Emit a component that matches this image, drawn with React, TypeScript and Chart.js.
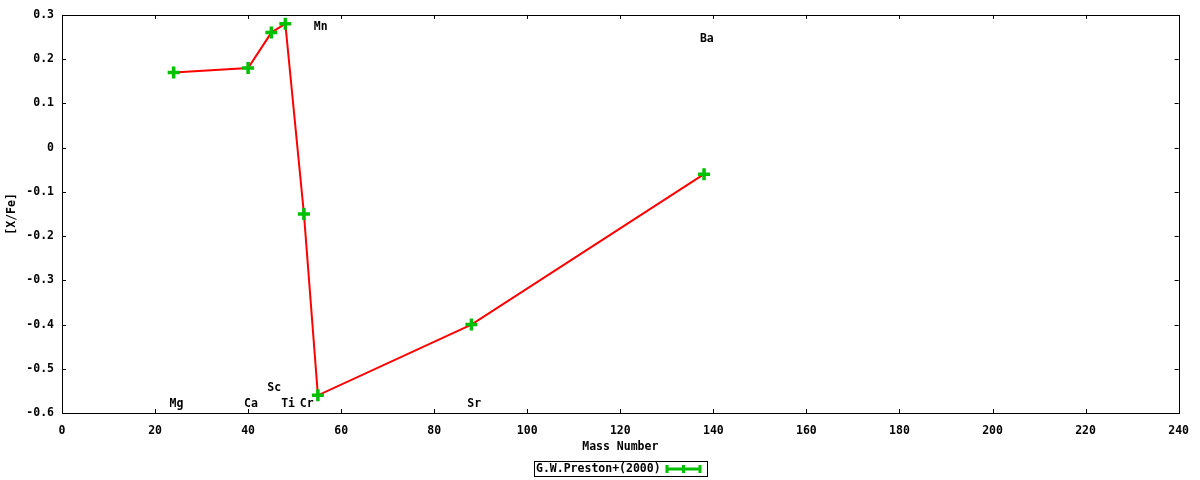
import React, { useEffect, useRef } from "react";
import { Chart, registerables } from "chart.js";

Chart.register(...registerables);

const massNumbers = [24, 40, 45, 48, 52, 55, 88, 138];
const xFe = [0.17, 0.18, 0.26, 0.28, -0.15, -0.56, -0.4, -0.06];
const elementNames = ["Mg", "Ca", "Sc", "Ti", "Cr", "Mn", "Sr", "Ba"];
const labelX = [24.6, 40.6, 45.6, 48.6, 52.6, 55.6, 88.6, 138.6];
const labelY = [-0.579, -0.579, -0.543, -0.579, -0.579, 0.272, -0.579, 0.245];
const seriesName = "G.W.Preston+(2000)";
const xTitle = "Mass Number";
const yTitle = "[X/Fe]";

const FONT = "bold 11.5px 'DejaVu Sans Mono', monospace";
const GREEN = "#00c000";
const RED = "#ff0000";

const framePlugin = {
  id: "frame",
  afterDatasetsDraw(chart: any) {
    const ctx = chart.ctx;
    const { left, right, top, bottom } = chart.chartArea;
    const xs = chart.scales.x;
    const ys = chart.scales.y;
    ctx.save();
    ctx.strokeStyle = "#000";
    ctx.lineWidth = 1;
    ctx.strokeRect(Math.round(left) + 0.5, Math.round(top) + 0.5, Math.round(right - left), Math.round(bottom - top));
    const tl = 4;
    ctx.beginPath();
    xs.ticks.forEach((t: any) => {
      const px = Math.round(xs.getPixelForValue(t.value)) + 0.5;
      ctx.moveTo(px, bottom);
      ctx.lineTo(px, bottom - tl);
      ctx.moveTo(px, top);
      ctx.lineTo(px, top + tl);
    });
    ys.ticks.forEach((t: any) => {
      const py = Math.round(ys.getPixelForValue(t.value)) + 0.5;
      ctx.moveTo(left, py);
      ctx.lineTo(left + tl, py);
      ctx.moveTo(right, py);
      ctx.lineTo(right - tl, py);
    });
    ctx.stroke();

    ctx.fillStyle = "#000";
    ctx.font = FONT;
    ctx.textAlign = "center";
    ctx.textBaseline = "middle";
    elementNames.forEach((name, i) => {
      ctx.fillText(name, xs.getPixelForValue(labelX[i]), ys.getPixelForValue(labelY[i]));
    });

    ctx.fillText(xTitle, (left + right) / 2, 447);
    ctx.save();
    ctx.translate(12, (top + bottom) / 2);
    ctx.rotate(-Math.PI / 2);
    ctx.fillText(yTitle, 0, 0);
    ctx.restore();

    const lx0 = 534, lx1 = 707, ly0 = 461, ly1 = 476;
    ctx.strokeStyle = "#000";
    ctx.lineWidth = 1;
    ctx.strokeRect(lx0 + 0.5, ly0 + 0.5, lx1 - lx0, ly1 - ly0);
    ctx.textAlign = "left";
    ctx.fillText(seriesName, lx0 + 2, (ly0 + ly1) / 2 + 1);
    ctx.strokeStyle = GREEN;
    ctx.lineWidth = 3;
    const sx0 = 667, sx1 = 700, sy = (ly0 + ly1) / 2 + 0.5;
    ctx.beginPath();
    ctx.moveTo(sx0, sy);
    ctx.lineTo(sx1, sy);
    [sx0, (sx0 + sx1) / 2, sx1].forEach((px) => {
      ctx.moveTo(px, sy - 4);
      ctx.lineTo(px, sy + 4);
    });
    ctx.stroke();
    ctx.restore();
  },
};

export default function App() {
  const ref = useRef<HTMLCanvasElement | null>(null);
  useEffect(() => {
    document.body.style.margin = "0";
    const chart = new Chart(ref.current as HTMLCanvasElement, {
      type: "line",
      data: {
        labels: massNumbers,
        datasets: [
          {
            label: seriesName,
            data: massNumbers.map((m, i) => ({ x: m, y: xFe[i] })),
            borderColor: RED,
            borderWidth: 2,
            pointStyle: "cross",
            pointRadius: 6,
            pointBorderWidth: 3.5,
            pointBorderColor: GREEN,
            pointBackgroundColor: GREEN,
            tension: 0,
            fill: false,
          },
        ],
      },
      options: {
        animation: false,
        responsive: false,
        layout: { padding: { left: 0, right: 21, top: 13, bottom: 0 } },
        plugins: { legend: { display: false }, tooltip: { enabled: false } },
        scales: {
          x: {
            type: "linear",
            min: 0,
            max: 240,
            ticks: {
              stepSize: 20,
              color: "#000",
              font: { family: "'DejaVu Sans Mono', monospace", size: 11.5, weight: "bold" },
              padding: 11,
              maxRotation: 0,
            },
            grid: { display: false, drawTicks: false },
            border: { display: false },
            afterFit: (s: any) => {
              s.height = 480 - 413;
            },
          },
          y: {
            type: "linear",
            min: -0.6,
            max: 0.3,
            ticks: {
              stepSize: 0.1,
              color: "#000",
              font: { family: "'DejaVu Sans Mono', monospace", size: 11.5, weight: "bold" },
              padding: 8,
              callback: (v: any) => {
                const n = Math.round(Number(v) * 10) / 10;
                return n === 0 ? "0" : n.toFixed(1);
              },
            },
            grid: { display: false, drawTicks: false },
            border: { display: false },
            afterFit: (s: any) => {
              s.width = 62;
            },
          },
        },
      },
      plugins: [framePlugin],
    } as any);
    return () => chart.destroy();
  }, []);
  return (
    <div style={{ width: 1200, height: 480, background: "#fff" }}>
      <canvas ref={ref} width={1200} height={480} style={{ display: "block" }} />
    </div>
  );
}
